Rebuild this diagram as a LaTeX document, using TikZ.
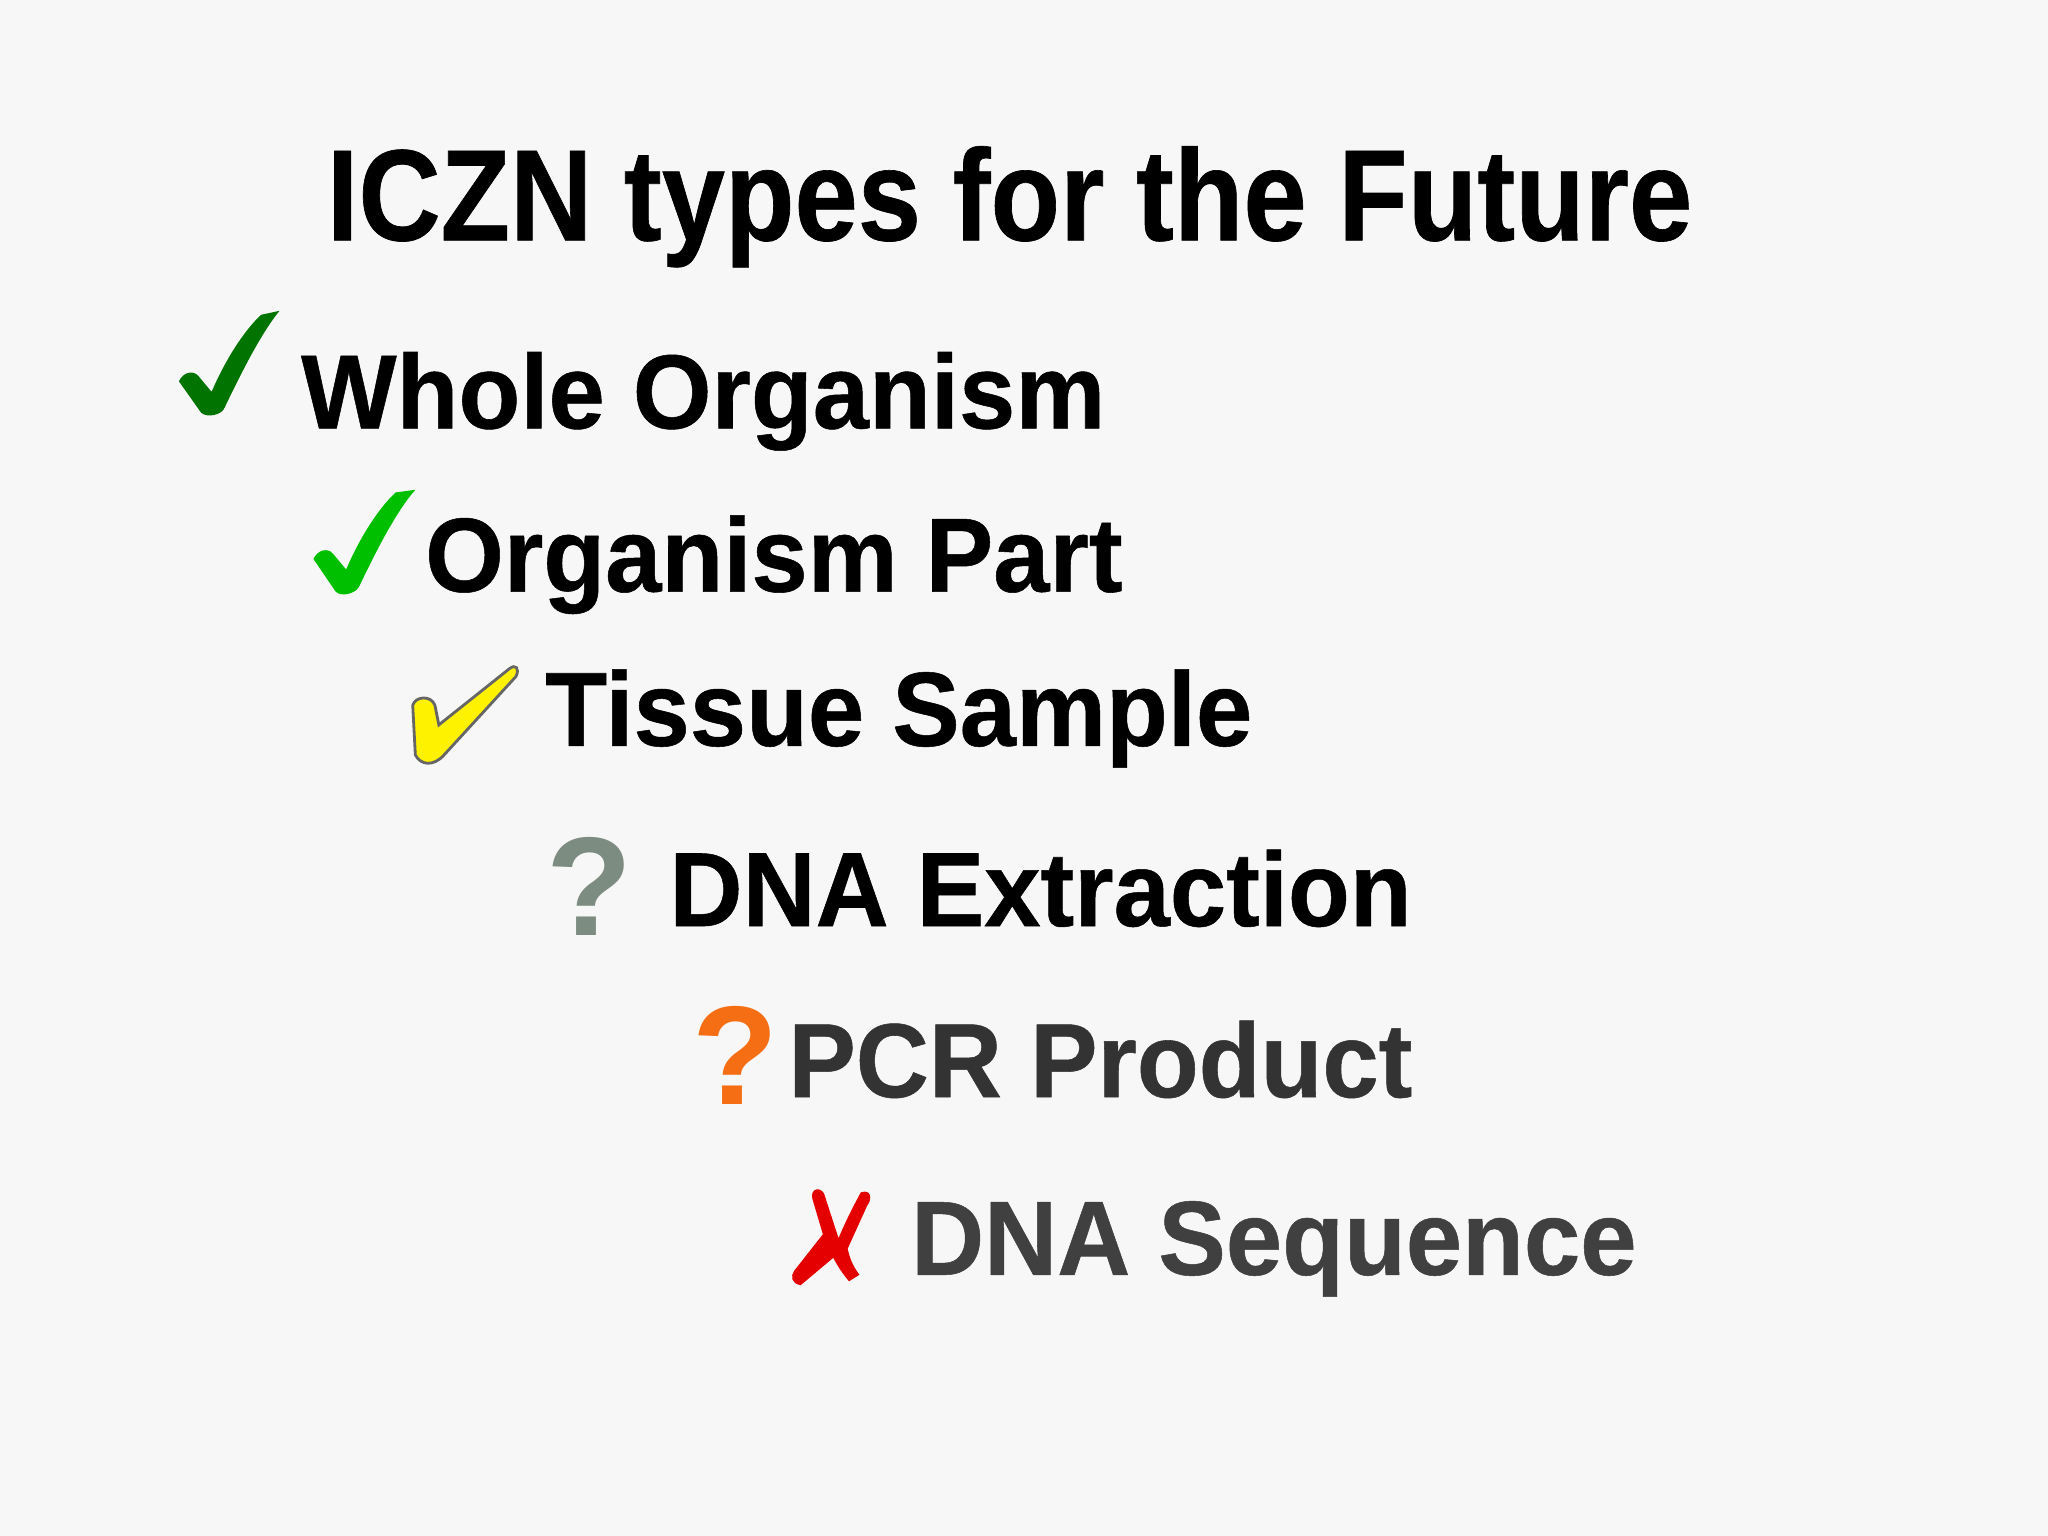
\documentclass[tikz,border=0pt]{standalone}
\usepackage{fontspec}
\setmainfont{Liberation Sans}
\newfontfamily\titlefont[FakeStretch=0.875,FakeBold=0.5]{Liberation Sans Bold}
\newfontfamily\itemfont[FakeStretch=0.96,FakeBold=0.5]{Liberation Sans Bold}
\begin{document}
\begin{tikzpicture}[x=0.01306cm,y=-0.01306cm,
  item/.style={anchor=base west,inner sep=0pt,font=\fontsize{30}{36}\itemfont},
  qm/.style={anchor=base west,inner sep=0pt,font=\fontsize{40}{48}\selectfont\bfseries}]
\fill[white!97!black] (0,0) rectangle (1568,1176);
\useasboundingbox (0,0) rectangle (1568,1176);
\node[anchor=base,inner sep=0pt,font=\fontsize{37}{44}\titlefont] (title) at (773,184) {ICZN types for the Future};
\node[item] (t1) at (230,328) {Whole Organism};
\node[item] (t2) at (325,453) {Organism Part};
\node[item] (t3) at (417,571) {Tissue Sample};
\node[item] (t4) at (512,709) {DNA Extraction};
\node[item,text=black!80] (t5) at (603,840) {PCR Product};
\node[item,text=black!75] (t6) at (697,976) {DNA Sequence};
% checks
\fill[green!45!black] (137,292) .. controls (140,285) and (148,283) .. (152,288) -- (162,300)
  .. controls (175,270) and (190,250) .. (200,241) -- (214,238) .. controls (200,255) and (185,285) .. (172,312)
  .. controls (170,318) and (158,320) .. (154,316) -- cycle;
\fill[green!75!black] (240,428) .. controls (243,421) and (251,419) .. (255,424) -- (265,436)
  .. controls (278,406) and (293,386) .. (303,377) -- (318,375) .. controls (303,392) and (288,422) .. (275,449)
  .. controls (272,455) and (261,457) .. (257,453) -- cycle;
\filldraw[fill=yellow,draw=black!60,line width=0.8pt] (316,540) .. controls (318,533) and (330,532) .. (333,540) -- (336,555)
  -- (390,512) .. controls (395,508) and (398,512) .. (395,518) -- (340,578)
  .. controls (332,587) and (322,586) .. (318,578) -- cycle;
\node[qm,text={rgb,255:red,125;green,140;blue,128}] (q1) at (418,716) {?};
\node[qm,text={rgb,255:red,245;green,110;blue,20}] (q2) at (530,846) {?};
% red cross
\fill[red!90!black] (622,918) .. controls (620,910) and (628,908) .. (631,914) -- (642,948)
  .. controls (647,936) and (653,924) .. (659,913) .. controls (667,910) and (668,918) .. (664,923)
  -- (649,956) .. controls (651,966) and (655,972) .. (658,976) -- (650,981)
  .. controls (645,975) and (641,969) .. (638,963) -- (613,984) .. controls (606,983) and (605,977) .. (608,973)
  -- (630,945) -- cycle;
\end{tikzpicture}
\end{document}
